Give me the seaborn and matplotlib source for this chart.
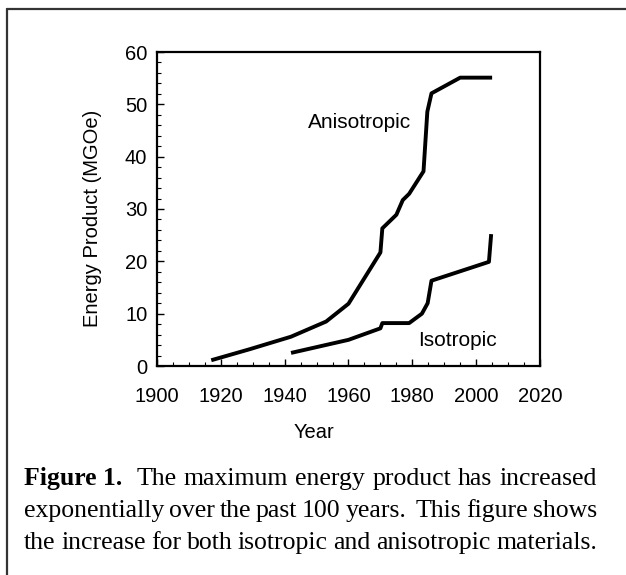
import matplotlib
matplotlib.use('Agg')
import matplotlib.pyplot as plt
import seaborn as sns
import pandas as pd
from matplotlib.ticker import MultipleLocator
from matplotlib.lines import Line2D

# ---- data ----
aniso_year = [1917, 1929, 1942, 1953, 1960, 1970, 1970.6, 1975, 1977, 1979, 1983.5, 1984.7, 1986, 1995, 2005]
aniso_value = [1.1, 3.2, 5.6, 8.5, 11.9, 21.7, 26.3, 28.9, 31.7, 32.9, 37.2, 48.6, 52.1, 55.1, 55.1]
iso_year = [1942, 1960, 1970, 1970.6, 1979, 1983, 1984.8, 1986, 2004, 2004.7]
iso_value = [2.5, 5.0, 7.2, 8.2, 8.2, 10.0, 12.0, 16.3, 19.9, 25.2]
x_ticks = [1900, 1920, 1940, 1960, 1980, 2000, 2020]
y_ticks = [0, 10, 20, 30, 40, 50, 60]
x_label = "Year"
y_label = "Energy Product (MGOe)"
label_aniso = "Anisotropic"
label_iso = "Isotropic"
caption_lines = [
    [("Figure 1.", "bold", 2), ("The", "normal", 1), ("maximum", "normal", 1), ("energy", "normal", 1),
     ("product", "normal", 1), ("has", "normal", 1), ("increased", "normal", 0)],
    [("exponentially", "normal", 1), ("over", "normal", 1), ("the", "normal", 1), ("past", "normal", 1),
     ("100", "normal", 1), ("years.", "normal", 2), ("This", "normal", 1), ("figure", "normal", 1),
     ("shows", "normal", 0)],
    [("the", "normal", 1), ("increase", "normal", 1), ("for", "normal", 1), ("both", "normal", 1),
     ("isotropic", "normal", 1), ("and", "normal", 1), ("anisotropic", "normal", 1), ("materials.", "normal", 0)],
]

W, H = 626, 575
sns.set_theme(style="white")
plt.rcParams['font.family'] = ['Liberation Sans', 'DejaVu Sans']

fig = plt.figure(figsize=(W / 100, H / 100), dpi=100)
fig.patch.set_facecolor('white')
ax = fig.add_axes([157 / W, 1 - 366 / H, (540 - 157) / W, (366 - 52) / H])

df_a = pd.DataFrame({"Year": aniso_year, "Value": aniso_value})
df_i = pd.DataFrame({"Year": iso_year, "Value": iso_value})
sns.lineplot(data=df_a, x="Year", y="Value", ax=ax, color="black", linewidth=2.8,
             sort=False, estimator=None, solid_capstyle='butt')
sns.lineplot(data=df_i, x="Year", y="Value", ax=ax, color="black", linewidth=2.8,
             sort=False, estimator=None, solid_capstyle='butt')

ax.set_xlim(1900, 2020)
ax.set_ylim(0, 60)
ax.set_xticks(x_ticks)
ax.set_yticks(y_ticks)
ax.set_xticklabels([str(t) for t in x_ticks])
ax.set_yticklabels([str(t) for t in y_ticks])
ax.xaxis.set_minor_locator(MultipleLocator(5))
ax.yaxis.set_minor_locator(MultipleLocator(2))
ax.tick_params(axis='both', which='major', direction='in', length=5, width=1.0,
               color='black', labelsize=14.5, labelcolor='black')
ax.tick_params(axis='both', which='minor', direction='in', length=3, width=0.8, color='black')
ax.tick_params(axis='x', which='major', pad=15)
ax.tick_params(axis='y', which='major', pad=7)
ax.tick_params(top=False, right=False, which='both')
ax.tick_params(bottom=True, left=True, which='both')
for s in ax.spines.values():
    s.set_visible(True)
    s.set_color('black')
    s.set_linewidth(1.6)
ax.set_xlabel("")
ax.set_ylabel("")
ax.grid(False)

ax.text(1963.6, 46.5, label_aniso, fontsize=15, ha='center', va='center', color='black')
ax.text(1994.0, 4.8, label_iso, fontsize=15, ha='center', va='center', color='black')

fig.text(314 / W, 1 - 433 / H, x_label, fontsize=14.5, ha='center', va='center', color='black')
fig.text(92 / W, 1 - 218 / H, y_label, fontsize=14.5, ha='center', va='center',
         rotation=90, color='black')

# outer frame (left and top edges visible)
fig.add_artist(Line2D([7 / W, 7 / W], [0, 1 - 9 / H], transform=fig.transFigure,
                      color='#333333', linewidth=1.6))
fig.add_artist(Line2D([7 / W, 1], [1 - 9 / H, 1 - 9 / H], transform=fig.transFigure,
                      color='#333333', linewidth=1.6))

# caption, justified between x=24 and x=597
fig.canvas.draw()
renderer = fig.canvas.get_renderer()
cap_fs = 18.5
left_px, right_px = 24, 597
baselines = [485, 517, 549]
for line, base in zip(caption_lines, baselines):
    texts = []
    widths = []
    for word, weight, gap in line:
        t = fig.text(0, 1 - base / H, word, fontsize=cap_fs, fontweight=weight,
                     family=['Liberation Serif', 'DejaVu Serif'], ha='left', va='baseline',
                     color='black')
        texts.append(t)
        widths.append(t.get_window_extent(renderer).width)
    total_gap_units = sum(g for _, _, g in line)
    space = max((right_px - left_px - sum(widths)) / total_gap_units, 2)
    x = left_px
    for t, w, (_, _, g) in zip(texts, widths, line):
        t.set_x(x / W)
        x += w + space * g

fig.savefig("out.png", dpi=100, facecolor='white')
